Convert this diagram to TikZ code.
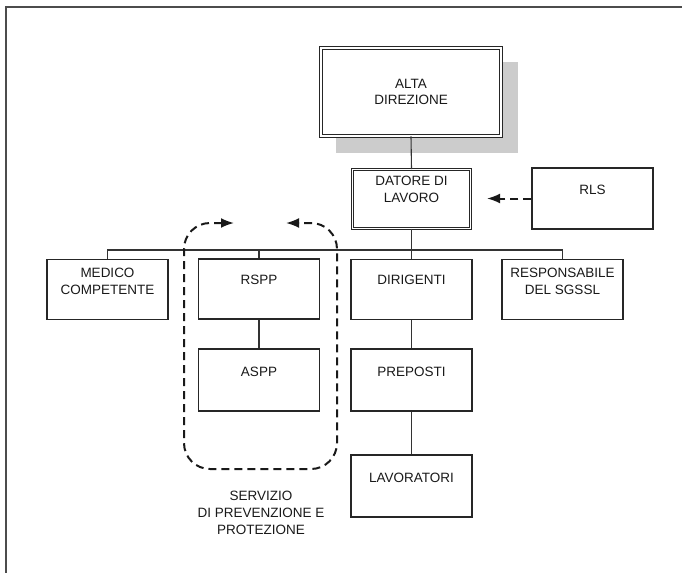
\documentclass[tikz,border=0pt]{standalone}
\usepackage{fontspec}
\setmainfont{Liberation Sans}
\usetikzlibrary{arrows.meta}
\begin{document}
\begin{tikzpicture}[x=1pt,y=-1pt,
  font=\fontsize{13.5}{16.8}\selectfont,
  boxnode/.style={draw=black!85, line width=1.1pt, rectangle, minimum width=121pt, minimum height=61pt, inner sep=0pt},
  dblnode/.style={draw=black!85, double, double distance=1.6pt, line width=0.9pt, rectangle, inner sep=0pt},
  txt/.style={align=center, inner sep=0pt, text=black!90},
  conn/.style={draw=black!80, line width=1.1pt},
  dashline/.style={draw=black!90, line width=2pt, dash pattern=on 8pt off 5pt}
]
\useasboundingbox (0,0) rectangle (682,573);
% frame
\draw[black!70, line width=1.4pt] (682,7) -- (6,7) -- (6,573);
% shadow
\fill[gray!40] (336,62) rectangle (518,153);
% boxes
\node[dblnode, minimum width=180pt, minimum height=88pt, fill=white] (alta) at (411,92) {};
\node[dblnode, minimum width=118pt, minimum height=59pt] (datore) at (411.5,199) {};
\node[boxnode] (rls) at (592.5,198.5) {};
\node[boxnode, minimum height=60pt] (medico) at (107.5,289.5) {};
\node[boxnode, minimum height=60pt] (rspp) at (259,289) {};
\node[boxnode, minimum height=62pt] (aspp) at (259,380) {};
\node[boxnode, minimum height=60pt] (dirigenti) at (411.5,289.5) {};
\node[boxnode, minimum height=62pt] (preposti) at (411.5,380) {};
\node[boxnode, minimum height=62pt] (lavoratori) at (411.5,486) {};
\node[boxnode, minimum height=60pt] (resp) at (562.5,289.5) {};
% texts
\node[txt] (taltad) at (411,92) {ALTA\\DIREZIONE};
\node[txt] (tdatore) at (411.5,189) {DATORE DI\\LAVORO};
\node[txt] (trls) at (592.5,190) {RLS};
\node[txt] (tmedico) at (107.5,281) {MEDICO\\COMPETENTE};
\node[txt] (trspp) at (259,280) {RSPP};
\node[txt] (taspp) at (259,372) {ASPP};
\node[txt] (tdirig) at (411.5,280) {DIRIGENTI};
\node[txt] (tprep) at (411.5,372) {PREPOSTI};
\node[txt] (tlav) at (411.5,478) {LAVORATORI};
\node[txt] (tresp) at (562.5,281.5) {RESPONSABILE\\DEL SGSSL};
\node[txt] (tserv) at (261,513) {SERVIZIO\\DI PREVENZIONE E\\PROTEZIONE};
% connectors
\coordinate (bus) at (411.5,250);
\path[conn] (alta.south) -- (datore.north);
\path[conn] (datore.south) -- (dirigenti.north);
\path[conn] (dirigenti.south) -- (preposti.north);
\path[conn] (preposti.south) -- (lavoratori.north);
\path[conn] (rspp.south) -- (aspp.north);
\path[conn] (medico.north) -- (medico.north |- bus) -- (resp.north |- bus) -- (resp.north);
\path[conn] (rspp.north) -- (rspp.north |- bus);
% RLS dashed arrow
\coordinate (rlstip) at (487,198.5);
\path[dashline, -{Latex[length=13pt,width=10pt]}] (rls.west) -- (rlstip);
% dashed loop around SPP
\coordinate (loopa) at (234,223);
\coordinate (loopb) at (286,223);
\path[dashline, rounded corners=26pt, {Latex[length=13pt,width=10pt]}-{Latex[length=13pt,width=10pt]}]
  (loopa) -- (184,223) -- (184,469) -- (337,469) -- (337,223) -- (loopb);
\end{tikzpicture}
\end{document}
